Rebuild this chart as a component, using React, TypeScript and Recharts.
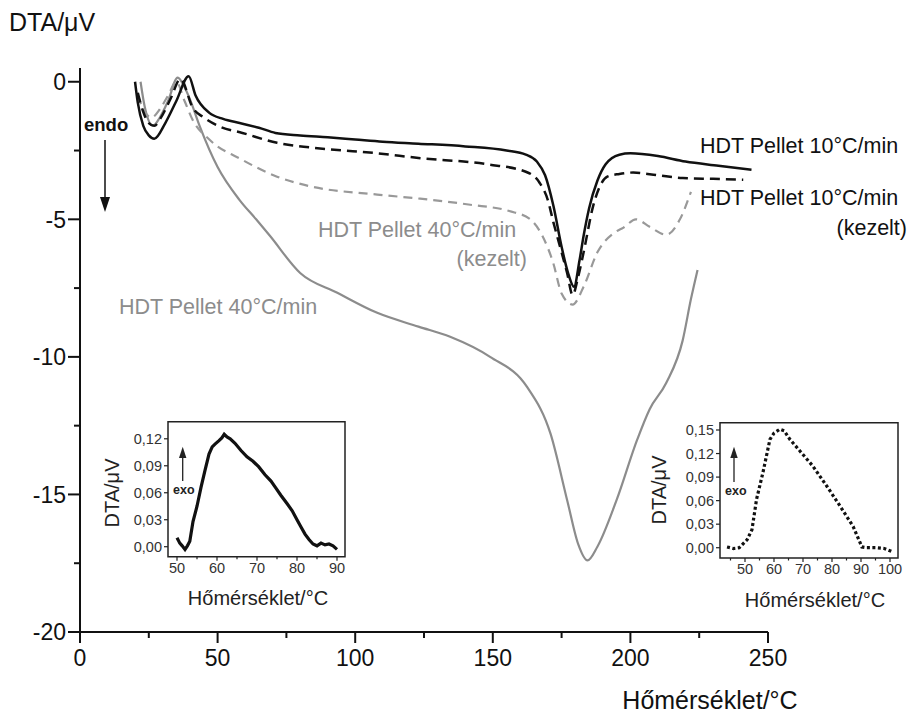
import React from 'react';
import { LineChart, Line, XAxis, YAxis, Customized, ReferenceArea } from 'recharts';

const FONT = '"Liberation Sans", Arial, Helvetica, sans-serif';
const BLACK = '#111111';
const GRAY = '#8c8c8c';

// ---- main chart axes ----
const mainXTicks = [0, 25, 50, 75, 100, 125, 150, 175, 200, 225, 250];
const mainYTicks = [-20, -17.5, -15, -12.5, -10, -7.5, -5, -2.5, 0];

// ---- HDT Pellet 10°C/min (black solid) ----
const t10 = [20, 21, 23, 25, 27, 31, 35, 39.5, 42, 47, 52, 58, 65, 71, 80, 90, 100, 110, 123, 140, 155, 162, 166, 169, 172, 175, 177.5, 179.5, 181.5, 183, 185, 188, 191, 196, 200, 210, 220, 232, 244];
const v10 = [0, -0.76, -1.6, -1.95, -2.07, -1.5, -0.7, 0.2, -0.5, -1.13, -1.35, -1.5, -1.67, -1.86, -1.95, -2.02, -2.1, -2.18, -2.25, -2.35, -2.5, -2.65, -2.9, -3.4, -4.5, -6.0, -7.0, -7.45, -6.5, -5.6, -4.6, -3.6, -3.0, -2.65, -2.6, -2.7, -2.9, -3.05, -3.2];

// ---- HDT Pellet 10°C/min (kezelt) (black dashed) ----
const t10k = [21, 23, 25, 27, 30, 33, 36.5, 41, 45, 51, 59, 71.6, 89, 108, 123, 148, 162, 167, 170, 172, 175, 177, 179, 181, 183, 186.5, 191.6, 196, 201, 210, 219, 230, 241];
const v10k = [-0.4, -1.1, -1.5, -1.6, -1.2, -0.6, 0.1, -0.95, -1.3, -1.64, -1.86, -2.22, -2.44, -2.6, -2.77, -3.0, -3.27, -3.67, -4.3, -5.1, -6.2, -6.95, -7.75, -7.1, -6.2, -4.5, -3.45, -3.35, -3.3, -3.4, -3.5, -3.53, -3.56];

// ---- HDT Pellet 40°C/min (gray solid) ----
const t40 = [22, 23.5, 26.5, 29, 32, 35.5, 38, 40, 43.6, 50, 58, 64, 69, 80, 93.5, 108, 123, 134.5, 149, 162.5, 171, 177, 181, 184.4, 188, 195, 202.5, 207, 213, 219, 222, 224.4];
const v40 = [0, -0.9, -1.6, -1.3, -0.7, 0.15, -0.2, -0.65, -1.64, -3.1, -4.3, -5.0, -5.6, -6.95, -7.67, -8.4, -8.9, -9.27, -10, -11.1, -12.8, -15.2, -16.8, -17.4, -16.9, -15.2, -13.0, -11.9, -10.95, -9.4, -7.9, -6.84];

// ---- HDT Pellet 40°C/min (kezelt) (gray dashed) ----
const t40k = [21, 23, 26, 29, 32, 35, 38, 41, 47, 59, 71.6, 83.6, 108, 123.6, 141.8, 156, 163.6, 168, 172, 175, 179, 183, 188, 194, 197.5, 202, 207, 213, 218, 222];
const v40k = [-0.5, -1.0, -1.3, -1.0, -0.5, 0.0, -0.7, -1.4, -2.1, -2.84, -3.45, -3.8, -4.1, -4.25, -4.47, -4.7, -5.0, -5.6, -6.6, -7.7, -8.1, -7.45, -6.2, -5.5, -5.3, -5.0, -5.27, -5.56, -5.0, -4.0];

// ---- inset left (solid) ----
const insetLXTicks = [50, 55, 60, 65, 70, 75, 80, 85, 90];
const insetLYTicks = [0, 0.03, 0.06, 0.09, 0.12];
const tInL = [50, 50.7, 51.3, 52, 52.6, 53.2, 54, 55, 56, 57, 58, 58.8, 59.5, 60.5, 61.2, 61.8, 62.5, 63.3, 64.5, 66, 67.5, 69, 70.4, 72, 73.5, 74.6, 76, 77.5, 78.8, 80, 81, 82, 83, 84, 85, 86, 87, 88, 89, 90];
const vInL = [0.01, 0.004, 0.001, -0.003, 0.001, 0.006, 0.028, 0.045, 0.066, 0.085, 0.103, 0.111, 0.114, 0.118, 0.121, 0.125, 0.122, 0.12, 0.115, 0.107, 0.1, 0.095, 0.089, 0.08, 0.073, 0.066, 0.057, 0.048, 0.04, 0.03, 0.022, 0.014, 0.008, 0.003, 0.001, 0.004, 0.002, 0.003, 0.001, -0.003];

// ---- inset right (dotted) ----
const insetRXTicks = [45, 50, 55, 60, 65, 70, 75, 80, 85, 90, 95, 100];
const insetRYTicks = [0, 0.03, 0.06, 0.09, 0.12, 0.15];
const tInR = [43.8, 46, 48, 50.7, 52.4, 54, 56.2, 58.6, 60, 62, 63.5, 65.5, 69, 73.4, 78.3, 82.8, 87.3, 90.3, 92, 95.5, 98, 100.7];
const vInR = [0.001, -0.001, 0.0, 0.01, 0.023, 0.062, 0.096, 0.138, 0.146, 0.151, 0.149, 0.138, 0.123, 0.104, 0.078, 0.053, 0.027, 0.001, 0.0, 0.0, -0.001, -0.005];

const zip = (t: number[], v: number[]) => t.map((x, i) => ({ t: x, v: v[i] }));
const s10 = zip(t10, v10);
const s10k = zip(t10k, v10k);
const s40 = zip(t40, v40);
const s40k = zip(t40k, v40k);
const sInL = zip(tInL, vInL);
const sInR = zip(tInR, vInR);

const fmtComma = (v: number) => v.toFixed(2).replace('.', ',');

const MainXTick = (props: any) => {
  const { x, y, payload } = props;
  const major = payload.value % 50 === 0;
  return (
    <g>
      <line x1={x} x2={x} y1={y} y2={y + (major ? 11 : 6)} stroke={BLACK} strokeWidth={2} />
      {major && (
        <text x={x} y={y + 18} dy="0.71em" textAnchor="middle" fontSize={23} fontFamily={FONT} fill={BLACK}>
          {payload.value}
        </text>
      )}
    </g>
  );
};

const MainYTick = (props: any) => {
  const { x, y, payload } = props;
  const major = payload.value % 5 === 0;
  return (
    <g>
      <line x1={x - (major ? 12 : 6)} x2={x} y1={y} y2={y} stroke={BLACK} strokeWidth={2} />
      {major && (
        <text x={x - 14} y={y} dy="0.36em" textAnchor="end" fontSize={23} fontFamily={FONT} fill={BLACK}>
          {payload.value}
        </text>
      )}
    </g>
  );
};

const makeInsetXTick = (majorStep: number) => (props: any) => {
  const { x, y, payload } = props;
  const major = payload.value % majorStep === 0;
  return (
    <g>
      <line x1={x} x2={x} y1={y} y2={y + (major ? 4 : 2.5)} stroke="#222" strokeWidth={1.2} />
      {major && (
        <text x={x} y={y + 6} dy="0.71em" textAnchor="middle" fontSize={14.5} fontFamily={FONT} fill="#333">
          {payload.value}
        </text>
      )}
    </g>
  );
};

const InsetYTick = (props: any) => {
  const { x, y, payload } = props;
  return (
    <g>
      <line x1={x - 4} x2={x} y1={y} y2={y} stroke="#222" strokeWidth={1.2} />
      <text x={x - 6} y={y} dy="0.36em" textAnchor="end" fontSize={14.5} fontFamily={FONT} fill="#333">
        {fmtComma(payload.value)}
      </text>
    </g>
  );
};

const MainTexts = () => (
  <g fontFamily={FONT}>
    <text x={9} y={31} fontSize={25} fill={BLACK}>DTA/μV</text>
    <text x={710} y={709} fontSize={25} fill={BLACK} textAnchor="middle">Hőmérséklet/°C</text>
    <text x={84} y={131} fontSize={18.5} fontWeight="bold" fill={BLACK}>endo</text>
    <line x1={105} x2={105} y1={140} y2={200} stroke={BLACK} strokeWidth={1.5} />
    <polygon points="100,197 110,197 105,212" fill={BLACK} />
    <text x={700} y={153} fontSize={21.5} fill={BLACK}>HDT Pellet 10°C/min</text>
    <text x={700} y={205} fontSize={21.5} fill={BLACK}>HDT Pellet 10°C/min</text>
    <text x={907} y={235} fontSize={21.5} fill={BLACK} textAnchor="end">(kezelt)</text>
    <text x={318} y={237} fontSize={21.5} fill={GRAY}>HDT Pellet 40°C/min</text>
    <text x={527} y={266} fontSize={21.5} fill={GRAY} textAnchor="end">(kezelt)</text>
    <text x={119} y={314} fontSize={21.5} fill={GRAY}>HDT Pellet 40°C/min</text>
  </g>
);

const InsetLTexts = () => (
  <g fontFamily={FONT}>
    <text transform="translate(29,83) rotate(-90)" fontSize={20} fill="#222" textAnchor="middle">DTA/μV</text>
    <text x={168} y={195} fontSize={20} fill="#222" textAnchor="middle">Hőmérséklet/°C</text>
    <text x={83} y={84} fontSize={12.5} fontWeight="bold" fill="#222">exo</text>
    <line x1={92.7} x2={92.7} y1={71} y2={46} stroke="#222" strokeWidth={1.3} />
    <polygon points="89,48 96.4,48 92.7,36.7" fill="#222" />
  </g>
);

const InsetRTexts = () => (
  <g fontFamily={FONT}>
    <text transform="translate(26,80) rotate(-90)" fontSize={20} fill="#222" textAnchor="middle">DTA/μV</text>
    <text x={175} y={197} fontSize={20} fill="#222" textAnchor="middle">Hőmérséklet/°C</text>
    <text x={85} y={85} fontSize={12.5} fontWeight="bold" fill="#222">exo</text>
    <line x1={94} x2={94} y1={72} y2={46} stroke="#222" strokeWidth={1.3} />
    <polygon points="90.3,48 97.7,48 94,36.7" fill="#222" />
  </g>
);

export default function App() {
  return (
    <div style={{ position: 'absolute', left: 0, top: 0, width: 910, height: 720, background: '#fff' }}>
      <div style={{ position: 'absolute', left: 0, top: 0 }}>
        <LineChart width={910} height={720} margin={{ top: 68, right: 142, bottom: 48, left: 20 }}>
          <XAxis
            dataKey="t"
            type="number"
            domain={[0, 250]}
            ticks={mainXTicks}
            interval={0}
            height={40}
            tickSize={0}
            tickMargin={0}
            tickLine={false}
            tick={(p: any) => <MainXTick {...p} />}
            axisLine={{ stroke: BLACK, strokeWidth: 2 }}
            allowDataOverflow
          />
          <YAxis
            type="number"
            domain={[-20, 0.5]}
            ticks={mainYTicks}
            interval={0}
            width={60}
            tickSize={0}
            tickMargin={0}
            tickLine={false}
            tick={(p: any) => <MainYTick {...p} />}
            axisLine={{ stroke: BLACK, strokeWidth: 2 }}
            allowDataOverflow
          />
          <Line data={s40} dataKey="v" type="monotone" stroke={GRAY} strokeWidth={2.2} dot={false} isAnimationActive={false} />
          <Line data={s40k} dataKey="v" type="monotone" stroke="#999999" strokeWidth={2.2} strokeDasharray="9 6" dot={false} isAnimationActive={false} />
          <Line data={s10k} dataKey="v" type="monotone" stroke={BLACK} strokeWidth={2.5} strokeDasharray="10 6" dot={false} isAnimationActive={false} />
          <Line data={s10} dataKey="v" type="monotone" stroke={BLACK} strokeWidth={2.5} dot={false} isAnimationActive={false} />
          <Customized component={MainTexts} />
        </LineChart>
      </div>

      <div style={{ position: 'absolute', left: 90, top: 410 }}>
        <LineChart width={270} height={200} margin={{ top: 11.7, right: 15, bottom: 28.3, left: 38 }}>
          <XAxis
            dataKey="t"
            type="number"
            domain={[47.75, 92]}
            ticks={insetLXTicks}
            interval={0}
            height={25}
            tickSize={0}
            tickMargin={0}
            tickLine={false}
            axisLine={false}
            tick={(p: any) => makeInsetXTick(10)(p)}
            allowDataOverflow
          />
          <YAxis
            type="number"
            domain={[-0.0111, 0.139]}
            ticks={insetLYTicks}
            interval={0}
            width={40}
            tickSize={0}
            tickMargin={0}
            tickLine={false}
            axisLine={false}
            tick={(p: any) => <InsetYTick {...p} />}
            allowDataOverflow
          />
          <ReferenceArea x1={47.75} x2={92} y1={-0.0111} y2={0.139} fill="none" stroke="#222" strokeWidth={1.5} ifOverflow="visible" />
          <Line data={sInL} dataKey="v" type="linear" stroke={BLACK} strokeWidth={3.2} dot={false} isAnimationActive={false} />
          <Customized component={InsetLTexts} />
        </LineChart>
      </div>

      <div style={{ position: 'absolute', left: 640, top: 410 }}>
        <LineChart width={270} height={200} margin={{ top: 12.7, right: 12, bottom: 27, left: 40 }}>
          <XAxis
            dataKey="t"
            type="number"
            domain={[41.38, 102.76]}
            ticks={insetRXTicks}
            interval={0}
            height={25}
            tickSize={0}
            tickMargin={0}
            tickLine={false}
            axisLine={false}
            tick={(p: any) => makeInsetXTick(10)(p)}
            allowDataOverflow
          />
          <YAxis
            type="number"
            domain={[-0.0131, 0.1593]}
            ticks={insetRYTicks}
            interval={0}
            width={40}
            tickSize={0}
            tickMargin={0}
            tickLine={false}
            axisLine={false}
            tick={(p: any) => <InsetYTick {...p} />}
            allowDataOverflow
          />
          <ReferenceArea x1={41.38} x2={102.76} y1={-0.0131} y2={0.1593} fill="none" stroke="#222" strokeWidth={1.5} ifOverflow="visible" />
          <Line data={sInR} dataKey="v" type="linear" stroke={BLACK} strokeWidth={3.2} strokeDasharray="3 2.5" dot={false} isAnimationActive={false} />
          <Customized component={InsetRTexts} />
        </LineChart>
      </div>
    </div>
  );
}
